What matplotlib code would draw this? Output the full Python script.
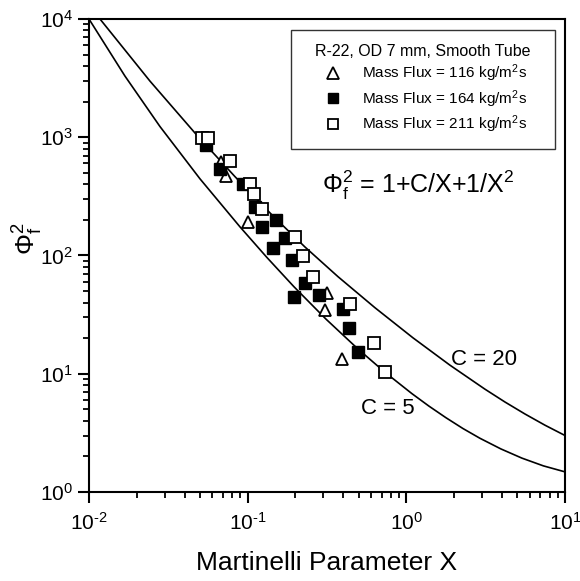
import matplotlib
matplotlib.use("Agg")
import matplotlib.pyplot as plt
from matplotlib.ticker import FuncFormatter, LogLocator
import numpy as np

plt.rcParams["font.family"] = ["Liberation Sans", "DejaVu Sans"]
plt.rcParams["mathtext.fontset"] = "custom"
plt.rcParams["mathtext.rm"] = "Liberation Sans"
plt.rcParams["mathtext.it"] = "Liberation Sans"
plt.rcParams["mathtext.bf"] = "Liberation Sans:bold"

x_116 = [0.0679, 0.0730, 0.100, 0.316, 0.309, 0.391]
y_116 = [614, 470, 192, 47.9, 34.6, 13.3]

x_164 = [0.0546, 0.0669, 0.0930, 0.111, 0.1225, 0.150, 0.173, 0.144,
         0.190, 0.1957, 0.2296, 0.281, 0.400, 0.436, 0.498]
y_164 = [860, 536, 402, 257, 175, 198.5, 140.6, 114.6,
         91, 44.8, 58.5, 45.9, 35.3, 24.4, 15.4]

x_211 = [0.0513, 0.0565, 0.0774, 0.1034, 0.110, 0.124, 0.200, 0.224,
         0.258, 0.443, 0.625, 0.736]
y_211 = [980, 991, 626, 400, 328, 246, 143, 99,
         65.8, 38.9, 18.3, 10.4]

# correlation curves as drawn in the reference (C = 5 and C = 20)
x_c5 = [0.01, 0.016853, 0.028018, 0.05005, 0.089427, 0.13226, 0.19567,
        0.31135, 0.49548, 0.73306, 1.0847, 1.3878, 1.7765, 2.2734, 2.9088,
        3.9459, 5.3522, 7.3101, 10.0]
y_c5 = [10000, 3293, 1232, 445.4, 174.8, 96.25, 54.49,
        29.02, 16.21, 10.30, 6.79, 5.328, 4.25, 3.443, 2.848,
        2.313, 1.934, 1.663, 1.480]

x_c20 = [0.011732, 0.024231, 0.047926, 0.083174, 0.14434, 0.22964, 0.37068,
         0.63407, 1.1004, 1.8831, 3.1281, 4.1820, 5.5902, 7.4712, 10.0]
y_c20 = [10000, 2985, 1039, 464.7, 216.1, 118.1, 66.29,
         36.20, 20.15, 11.82, 7.41, 5.771, 4.57, 3.675, 3.005]


def sci_label(v, pos):
    exp = int(round(np.log10(v)))
    sign = "\u2010" if exp < 0 else ""
    return r"$10^{%s%d}$" % (sign, abs(exp))


fig = plt.figure(figsize=(5.8, 5.81), dpi=100)
ax = fig.add_axes([0.1534, 0.1532, 0.8207, 0.8141])

ax.plot(x_c5, y_c5, color="black", lw=1.2)
ax.plot(x_c20, y_c20, color="black", lw=1.2)

ms = 8
ax.plot(x_116, y_116, "^", ms=ms + 1, mfc="white", mec="black", mew=1.3, ls="none",
        label="Mass Flux = 116 kg/m$^2$s")
ax.plot(x_164, y_164, "s", ms=ms, mfc="black", mec="black", mew=1.0, ls="none",
        label="Mass Flux = 164 kg/m$^2$s")
ax.plot(x_211, y_211, "s", ms=ms, mfc="white", mec="black", mew=1.3, ls="none",
        label="Mass Flux = 211 kg/m$^2$s")

ax.set_xscale("log")
ax.set_yscale("log")
ax.set_xlim(1e-2, 1e1)
ax.set_ylim(1e0, 1e4)
ax.xaxis.set_major_locator(LogLocator(base=10, numticks=10))
ax.yaxis.set_major_locator(LogLocator(base=10, numticks=10))
ax.xaxis.set_major_formatter(FuncFormatter(sci_label))
ax.yaxis.set_major_formatter(FuncFormatter(sci_label))

for s in ax.spines.values():
    s.set_linewidth(1.5)
ax.tick_params(which="major", direction="out", length=8, width=1.5, labelsize=15,
               top=False, right=False)
ax.tick_params(which="minor", direction="out", length=4, width=1.3,
               top=False, right=False)
ax.tick_params(axis="x", pad=6)

ax.set_xlabel("Martinelli Parameter X", fontsize=19, labelpad=13)
ax.set_ylabel(r"$\Phi_f^2$", fontsize=19)
ax.yaxis.set_label_coords(-0.093, 0.535)

leg = ax.legend(title="R-22, OD 7 mm, Smooth Tube", loc="upper left",
                bbox_to_anchor=(0.4244, 0.0, 0.5546, 0.9767), mode="expand",
                borderaxespad=0.0, fontsize=11, title_fontsize=11.5,
                frameon=True, fancybox=False, edgecolor="black",
                handletextpad=0.0, borderpad=0.9, labelspacing=0.25,
                handlelength=3.75, markerscale=0.9)
leg.get_frame().set_linewidth(1.0)

ax.text((418 - 89) / 476, (492 - 185) / 473, r"$\Phi_f^2$ = 1+C/X+1/X$^2$",
        fontsize=18, transform=ax.transAxes, ha="center", va="center")
ax.text(3.08, 13.3, "C = 20", fontsize=16, ha="center", va="center")
ax.text(0.76, 5.13, "C = 5", fontsize=16, ha="center", va="center")

fig.savefig("out.png", dpi=100)
